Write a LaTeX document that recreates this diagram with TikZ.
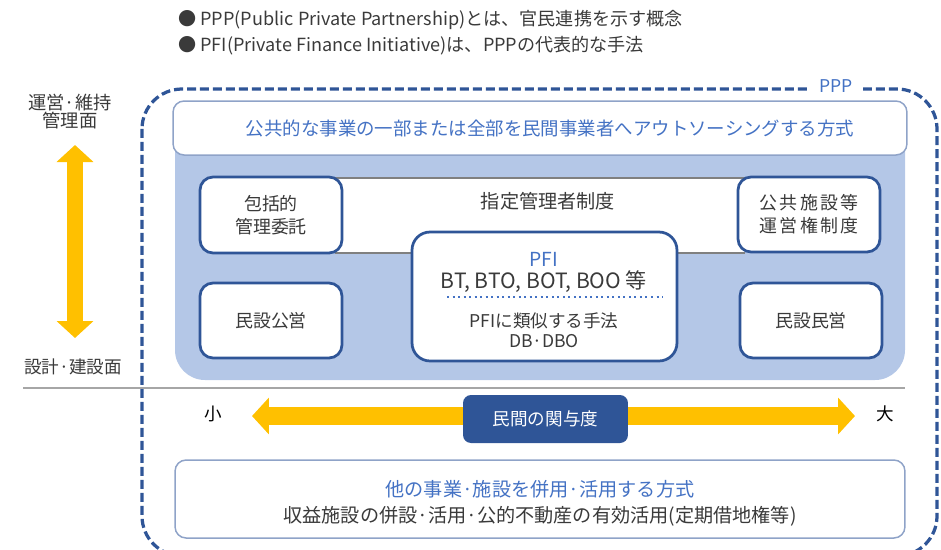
\documentclass[tikz,border=0pt]{standalone}
\usepackage{fontspec}
\setmainfont{Noto Sans CJK JP}
\newfontfamily\spaced[LetterSpace=14]{Noto Sans CJK JP}
\usetikzlibrary{arrows.meta}
\definecolor{dblue}{HTML}{2F5597}
\definecolor{tblue}{HTML}{4472C4}
\definecolor{panel}{HTML}{B4C7E7}
\definecolor{ylw}{HTML}{FFC000}
\definecolor{txt}{HTML}{3A3A3A}
\definecolor{lborder}{HTML}{8FA3C8}
\definecolor{bandline}{HTML}{808080}
\begin{document}
\begin{tikzpicture}[x=0.02cm,y=-0.02cm,
  every node/.style={text=txt, align=center, inner sep=0pt},
  wbox/.style={draw=dblue, line width=0.055cm, fill=white, rounded corners=0.26cm},
  lbox/.style={draw=lborder, line width=0.03cm, fill=white, rounded corners=0.22cm},
  yarrow/.style={draw=ylw, line width=0.34cm,
     {Triangle[width=0.72cm,length=0.34cm]}-{Triangle[width=0.72cm,length=0.34cm]}},
  fnt/.style={font=\fontsize{#1}{13}\selectfont}]
\useasboundingbox (0,0) rectangle (941,549);
% bullets
\node[anchor=west, fnt=10.3] (b1) at (178,20) {● PPP(Public Private Partnership)とは、官民連携を示す概念};
\node[anchor=west, fnt=10.3] (b2) at (178,46) {● PFI(Private Finance Initiative)は、PPPの代表的な手法};
% PPP boundary
\draw[dblue, line width=0.065cm, dash pattern=on 0.18cm off 0.08cm, rounded corners=0.8cm]
  (142,89) rectangle (937,556);
\node[fill=white, inner xsep=0.2cm, inner ysep=0.05cm, text=tblue, fnt=10] (ppp) at (836,86) {PPP};
% panel
\fill[panel, rounded corners=0.6cm] (175,110) rectangle (905,380);
% top box
\node[lbox, minimum width=14.68cm, minimum height=1.08cm] (top) at (540,128) {};
\node[text=tblue, fnt=10.5] (toptext) at (550,128)
  {公共的な事業の一部または全部を民間事業者へアウトソーシングする方式};
% band
\node[fill=white, minimum width=8.2cm, minimum height=1.5cm] (band) at (540,215.5) {};
\draw[bandline, line width=0.04cm] (band.north west) -- (band.north east);
\draw[bandline, line width=0.04cm] (band.south west) -- (band.south east);
\node[fnt=10.9] (bandtext) at (548,201) {指定管理者制度};
% boxes
\node[wbox, minimum width=2.84cm, minimum height=1.52cm, fnt=10.2] (hokatsu) at (271,215)
  {包括的\\管理委託};
\node[wbox, minimum width=2.84cm, minimum height=1.5cm, fnt=10.2] (kokyo) at (809,214.5)
  {\spaced 公共施設等\\\spaced 運営権制度};
\node[wbox, minimum width=2.84cm, minimum height=1.5cm, fnt=10.2] (minkou) at (271,320.5) {民設公営};
\node[wbox, minimum width=2.84cm, minimum height=1.5cm, fnt=10.2] (minmin) at (811,320.5) {民設民営};
% PFI box
\node[wbox, rounded corners=0.36cm, minimum width=5.3cm, minimum height=2.58cm] (pfi) at (544.5,296.5) {};
\node[text=tblue, fnt=11] (pfit) at (544,259) {PFI};
\node[fnt=12] (pfia) at (544,282) {BT, BTO, BOT, BOO 等};
\coordinate (dl) at (447,297);
\coordinate (dr) at (663,297);
\draw[tblue, line width=0.04cm, dotted] (dl) -- (dr);
\node[font=\fontsize{10}{11.3}\selectfont] (pfib) at (544,330) {PFIに類似する手法\\DB·DBO};
% left labels and vertical arrow
\node[font=\fontsize{10.4}{10.2}\selectfont] (upper) at (70,112) {運営·維持\\管理面};
\node[fnt=10] (lower) at (73,367) {設計·建設面};
\coordinate (vt) at (75,145);
\coordinate (vb) at (75,338);
\draw[yarrow] (vt) -- (vb);
% separator
\coordinate (sl) at (23,388);
\coordinate (sr) at (905,388);
\draw[gray!70, line width=0.03cm] (sl) -- (sr);
% horizontal arrow
\coordinate (hl) at (252,416);
\coordinate (hr) at (855,416);
\draw[yarrow, line width=0.37cm] (hl) -- (hr);
\node[fnt=10, text=black] (small) at (213,414) {小};
\node[fnt=10, text=black] (large) at (885,414) {大};
\node[fill=dblue, rounded corners=0.16cm, minimum width=3.3cm, minimum height=0.96cm, text=white, fnt=10] (kanyo) at (545.5,419) {民間の関与度};
% bottom box
\node[lbox, minimum width=14.6cm, minimum height=1.56cm] (bottom) at (540,499) {};
\node[font=\fontsize{10.9}{15}\selectfont] (bottomtext) at (540,503)
  {{\color{tblue}他の事業·施設を併用·活用する方式}\\収益施設の併設·活用·公的不動産の有効活用(定期借地権等)};
\end{tikzpicture}
\end{document}
